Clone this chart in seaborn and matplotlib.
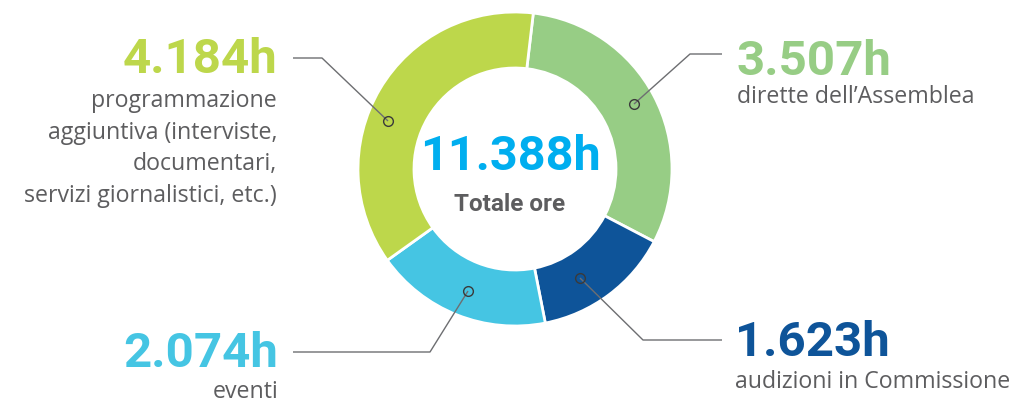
import matplotlib
matplotlib.use("Agg")
import matplotlib.pyplot as plt
import seaborn as sns

# Data
categories = ["diretta", "audizioni", "eventi", "programmazione"]
hours = [3507, 1623, 2074, 4184]
value_labels = ["3.507h", "1.623h", "2.074h", "4.184h"]
descriptions = [
    ["dirette dell\u2019Assemblea"],
    ["audizioni in Commissione"],
    ["eventi"],
    ["programmazione", "aggiuntiva (interviste,", "documentari,", "servizi giornalistici, etc.)"],
]
total_label = "11.388h"
total_text = "Totale ore"

colors = ["#97cd85", "#0e5499", "#45c5e3", "#bdd74b"]
gray = "#5d5d5f"

sns.set_theme(style="white")
plt.rcParams["font.family"] = ["Open Sans", "DejaVu Sans"]

fig = plt.figure(figsize=(10.16, 4.05), dpi=100)
ax = fig.add_axes([0, 0, 1, 1])

# donut, axes units are pixels (y up)
cx, cy, r_out, ring = 515, 236, 157, 56
ax.pie(hours, colors=colors, startangle=83.3, counterclock=False,
       radius=r_out, center=(cx, cy),
       wedgeprops=dict(width=ring, edgecolor="white", linewidth=2))
ax.set_xlim(0, 1016)
ax.set_ylim(0, 405)
ax.set_aspect("equal")
ax.axis("off")

# centre text
ax.text(cx - 5, 235, total_label, color="#00aeef", fontsize=35, fontweight="bold",
        ha="center", va="baseline", family=["Roboto", "DejaVu Sans"])
ax.text(cx - 5, 194, total_text, color=gray, fontsize=17.5, fontweight="bold",
        ha="center", va="baseline", family=["Roboto", "DejaVu Sans"])

# label layout: (x, number baseline, first description baseline, ha)
layout = [
    (737, 330, 302, "left"),
    (735, 49, 17, "left"),
    (278, 38, 7, "right"),
    (277, 332, 298, "right"),
]
# leader lines: circle on the ring -> elbow -> end
leaders = [
    [(634, 301), (690, 351), (722, 351)],
    [(580, 127), (643, 65), (722, 65)],
    [(468, 114), (430, 53), (293, 53)],
    [(388, 284), (322, 347), (293, 347)],
]

for i in range(len(categories)):
    x, yb, yd, ha = layout[i]
    ax.text(x, yb, value_labels[i], color=colors[i], fontsize=35.5, fontweight="bold",
            ha=ha, va="baseline", family=["Roboto", "DejaVu Sans"])
    for j, line in enumerate(descriptions[i]):
        ax.text(x, yd - j * 31.7, line, color=gray, fontsize=16.7,
                ha=ha, va="baseline")
    pts = leaders[i]
    ax.plot([p[0] for p in pts], [p[1] for p in pts], color="#6d6e71", lw=1,
            solid_capstyle="butt", zorder=3)
    ax.plot(pts[0][0], pts[0][1], "o", ms=7, mfc="none", mec="#3a3a3a", mew=1, zorder=4)

fig.savefig("out.png", dpi=100, facecolor="white")
